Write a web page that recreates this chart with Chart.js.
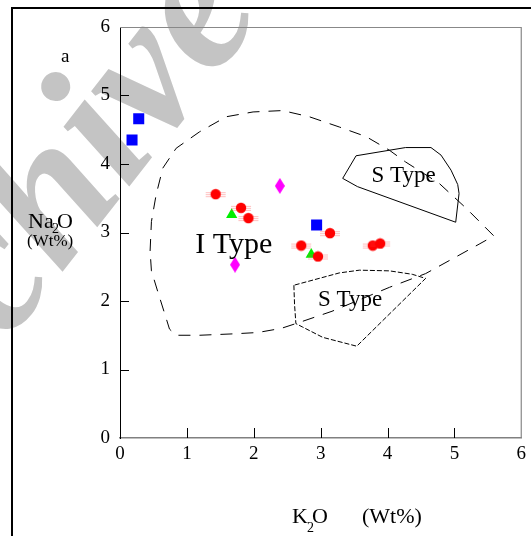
<!DOCTYPE html>
<html>
<head>
<meta charset="utf-8">
<script src="https://cdn.jsdelivr.net/npm/chart.js@4.4.0/dist/chart.umd.min.js"></script>
<style>
  html, body { margin: 0; padding: 0; background: #fff; }
</style>
</head>
<body>
<canvas id="chart" width="531" height="536"></canvas>
<script>
// axis ticks
const tickValues = [0, 1, 2, 3, 4, 5, 6];

// samples (K2O, Na2O wt%)
const redX = [1.43, 1.81, 1.92, 2.71, 3.14, 2.96, 3.78, 3.89];
const redY = [3.56, 3.36, 3.21, 2.81, 2.99, 2.65, 2.81, 2.84];
const blueX = [0.28, 0.18, 2.94];
const blueY = [4.66, 4.35, 3.11];
const greenX = [1.67, 2.86];
const greenY = [3.26, 2.68];
const magentaX = [2.39, 1.72];
const magentaY = [3.68, 2.53];

// field boundaries
const iTypeX = [0.45, 0.47, 0.54, 0.64, 0.84, 1.19, 1.59, 1.99, 2.43, 2.83, 3.28, 3.68, 4.03, 4.27, 4.77, 5.17, 5.59,
  5.37, 4.57, 4.03, 3.17, 2.66, 2.41, 2.06, 1.69, 1.19, 0.84, 0.74, 0.67, 0.57, 0.47, 0.45];
const iTypeY = [2.73, 3.16, 3.55, 3.94, 4.23, 4.47, 4.69, 4.76, 4.78, 4.69, 4.54, 4.40, 4.20, 4.03, 3.72, 3.36, 2.95,
  2.83, 2.40, 2.20, 1.85, 1.68, 1.60, 1.54, 1.52, 1.50, 1.50, 1.59, 1.81, 2.12, 2.44, 2.73];
const sUpperX = [3.53, 4.27, 4.65, 4.80, 4.95, 5.05, 5.07, 5.02, 3.55, 3.33, 3.53];
const sUpperY = [4.12, 4.24, 4.24, 4.13, 3.91, 3.70, 3.57, 3.15, 3.67, 3.79, 4.12];
const sLowerX = [2.60, 2.61, 2.63, 2.73, 3.03, 3.54, 4.57, 4.37, 4.03, 3.58, 3.28, 2.60];
const sLowerY = [2.23, 1.95, 1.67, 1.62, 1.47, 1.34, 2.33, 2.39, 2.44, 2.45, 2.41, 2.23];

// field names
const fieldNames = ['I Type', 'S Type', 'S Type'];
const fieldX = [1.70, 4.24, 3.44];
const fieldY = [2.70, 3.74, 1.92];
const fieldSize = [30, 23, 23];

const serif = '"Liberation Serif", "Times New Roman", serif';

function toPoints(xs, ys) {
  return xs.map((x, i) => ({ x: x, y: ys[i] }));
}

// red dot with the light horizontal smear
const redDot = document.createElement('canvas');
redDot.width = 24; redDot.height = 12;
(function () {
  const c = redDot.getContext('2d');
  c.strokeStyle = 'rgba(255,70,70,0.35)';
  c.lineWidth = 1;
  [4.5, 6.5, 8.5].forEach(yy => { c.beginPath(); c.moveTo(2, yy); c.lineTo(22, yy); c.stroke(); });
  c.fillStyle = '#ff0000';
  c.beginPath(); c.arc(12, 6, 5.2, 0, Math.PI * 2); c.fill();
})();

// tall diamond
const diamond = document.createElement('canvas');
diamond.width = 10; diamond.height = 16;
(function () {
  const c = diamond.getContext('2d');
  c.fillStyle = '#ff00ff';
  c.beginPath(); c.moveTo(5, 0); c.lineTo(10, 8); c.lineTo(5, 16); c.lineTo(0, 8); c.closePath(); c.fill();
})();

const decor = {
  id: 'decor',
  beforeDraw(chart) {
    const ctx = chart.ctx;
    ctx.save();
    ctx.fillStyle = '#fff';
    ctx.fillRect(0, 0, chart.width, chart.height);
    // watermark
    ctx.translate(-118, 503);
    ctx.rotate(-52 * Math.PI / 180);
    ctx.font = 'italic bold 193px ' + serif;
    ctx.fillStyle = '#c4c4c4';
    ctx.fillText('Archive', 0, 0);
    ctx.restore();
  },
  afterDatasetsDraw(chart) {
    const ctx = chart.ctx;
    const xs = chart.scales.x, ys = chart.scales.y;
    ctx.save();
    ctx.fillStyle = '#000';
    ctx.textAlign = 'center';
    ctx.textBaseline = 'alphabetic';
    fieldNames.forEach((t, i) => {
      ctx.font = fieldSize[i] + 'px ' + serif;
      ctx.fillText(t, xs.getPixelForValue(fieldX[i]), ys.getPixelForValue(fieldY[i]));
    });
    ctx.restore();
  },
  afterDraw(chart) {
    const ctx = chart.ctx;
    const a = chart.chartArea;
    const xs = chart.scales.x, ys = chart.scales.y;
    ctx.save();
    // top and right border
    ctx.strokeStyle = '#888';
    ctx.lineWidth = 1.2;
    ctx.beginPath();
    ctx.moveTo(a.left, a.top + 0.5); ctx.lineTo(a.right, a.top + 0.5);
    ctx.lineTo(a.right, a.bottom);
    ctx.stroke();
    // inward tick marks
    ctx.strokeStyle = '#000';
    ctx.lineWidth = 1;
    tickValues.slice(1, -1).forEach(v => {
      const px = Math.round(xs.getPixelForValue(v)) + 0.5;
      ctx.beginPath(); ctx.moveTo(px, a.bottom); ctx.lineTo(px, a.bottom - 10); ctx.stroke();
      const py = Math.round(ys.getPixelForValue(v)) + 0.5;
      ctx.beginPath(); ctx.moveTo(a.left, py); ctx.lineTo(a.left + 9, py); ctx.stroke();
    });
    // outer frame
    ctx.lineWidth = 2;
    ctx.beginPath();
    ctx.moveTo(12, chart.height); ctx.lineTo(12, 8); ctx.lineTo(chart.width, 8);
    ctx.stroke();
    // titles
    ctx.fillStyle = '#000';
    ctx.textBaseline = 'alphabetic';
    ctx.textAlign = 'left';
    ctx.font = '19px ' + serif;
    ctx.fillText('a', 61, 62);
    ctx.font = '22px ' + serif;
    ctx.fillText('Na', 28, 228);
    ctx.fillText('O', 57, 228);
    ctx.font = '14px ' + serif;
    ctx.fillText('2', 52, 233);
    ctx.font = '17px ' + serif;
    ctx.fillText('(Wt%)', 27, 246);
    ctx.font = '22px ' + serif;
    ctx.fillText('K', 292, 523);
    ctx.fillText('O', 312, 523);
    ctx.fillText('(Wt%)', 362, 523);
    ctx.font = '14px ' + serif;
    ctx.fillText('2', 307, 532);
    ctx.restore();
  }
};

new Chart(document.getElementById('chart'), {
  type: 'scatter',
  data: {
    datasets: [
      { label: 'Red', data: toPoints(redX, redY), pointStyle: redDot, pointRadius: 6 },
      { label: 'Blue', data: toPoints(blueX, blueY), pointStyle: 'rect', pointRadius: 7.8,
        backgroundColor: '#0000ff', borderWidth: 0 },
      { label: 'Green', data: toPoints(greenX, greenY), pointStyle: 'triangle', pointRadius: 6.5,
        backgroundColor: '#00ee00', borderWidth: 0 },
      { label: 'Magenta', data: toPoints(magentaX, magentaY), pointStyle: diamond, pointRadius: 6 },
      { label: 'S Type upper', data: toPoints(sUpperX, sUpperY), showLine: true, pointRadius: 0,
        borderColor: '#000', borderWidth: 1, fill: false },
      { label: 'S Type lower', data: toPoints(sLowerX, sLowerY), showLine: true, pointRadius: 0,
        borderColor: '#000', borderWidth: 1, borderDash: [5, 2], fill: false },
      { label: 'I Type', data: toPoints(iTypeX, iTypeY), showLine: true, pointRadius: 0,
        borderColor: '#000', borderWidth: 1, borderDash: [12, 9], fill: false }
    ]
  },
  options: {
    responsive: false,
    animation: false,
    events: [],
    layout: { padding: { top: 27, right: 9, left: 0, bottom: 0 } },
    plugins: { legend: { display: false }, tooltip: { enabled: false } },
    scales: {
      x: {
        type: 'linear', min: 0, max: 6,
        afterFit: s => { s.height = 98; },
        afterBuildTicks: s => { s.ticks = tickValues.map(v => ({ value: v })); },
        ticks: { font: { family: serif, size: 19 }, color: '#000', padding: 5, maxRotation: 0 },
        grid: { drawOnChartArea: false, drawTicks: false },
        border: { display: true, color: '#808080', width: 1.5 }
      },
      y: {
        type: 'linear', min: 0, max: 6,
        afterFit: s => { s.width = 120; },
        afterBuildTicks: s => { s.ticks = tickValues.map(v => ({ value: v })); },
        ticks: { font: { family: serif, size: 19 }, color: '#000', padding: 10 },
        grid: { drawOnChartArea: false, drawTicks: false },
        border: { display: true, color: '#000', width: 1 }
      }
    }
  },
  plugins: [decor]
});
</script>
</body>
</html>
